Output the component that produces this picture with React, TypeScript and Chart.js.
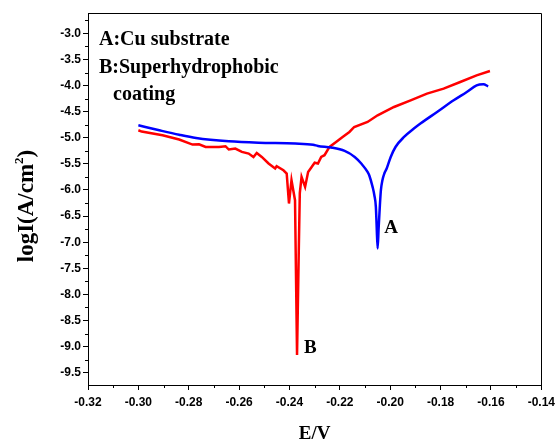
import React, { useEffect, useRef } from 'react';
import { Chart, registerables } from 'chart.js';

Chart.register(...registerables);

// A: Cu substrate (blue)
const cuE = [
  -0.3000, -0.2917, -0.2838, -0.2771, -0.2641, -0.2523, -0.2377, -0.2306, -0.2287,
  -0.2234, -0.2181, -0.2141, -0.2115, -0.2090, -0.2082, -0.2070, -0.2063, -0.2057,
  -0.2054, -0.2050, -0.2046, -0.2041, -0.2037, -0.2031, -0.2023, -0.2014, -0.1998,
  -0.1979, -0.1945, -0.1906, -0.1880, -0.1814, -0.1748, -0.1696, -0.1657, -0.1630,
  -0.1611,
];
const cuLogI = [
  -4.760, -4.856, -4.942, -5.003, -5.067, -5.095, -5.111, -5.134, -5.156,
  -5.187, -5.252, -5.367, -5.493, -5.654, -5.736, -5.941, -6.100, -6.324,
  -6.674, -7.120, -6.731, -6.291, -6.004, -5.813, -5.679, -5.589, -5.367,
  -5.176, -4.984, -4.824, -4.728, -4.506, -4.282, -4.123, -3.995, -3.976,
  -4.014,
];

// B: Superhydrophobic coating (red)
const coatE = [
  -0.3000, -0.2987, -0.2904, -0.2838, -0.2785, -0.2759, -0.2733, -0.2680, -0.2654,
  -0.2641, -0.2615, -0.2589, -0.2562, -0.2543, -0.2530, -0.2510, -0.2483, -0.2457,
  -0.2451, -0.2424, -0.2411, -0.2402, -0.2392, -0.2378, -0.2370, -0.2363, -0.2359,
  -0.2352, -0.2338, -0.2326, -0.2300, -0.2287, -0.2274, -0.2261, -0.2241, -0.2215,
  -0.2189, -0.2162, -0.2143, -0.2090, -0.2050, -0.1985, -0.1919, -0.1854, -0.1788,
  -0.1722, -0.1657, -0.1604,
];
const coatLogI = [
  -4.856, -4.881, -4.952, -5.034, -5.130, -5.124, -5.176, -5.176, -5.162,
  -5.225, -5.206, -5.271, -5.302, -5.367, -5.290, -5.367, -5.493, -5.589,
  -5.545, -5.622, -5.685, -6.259, -5.813, -6.196, -9.160, -7.150, -6.060,
  -5.750, -5.941, -5.654, -5.478, -5.493, -5.367, -5.334, -5.176, -5.080,
  -4.984, -4.889, -4.793, -4.697, -4.569, -4.410, -4.282, -4.154, -4.058,
  -3.932, -3.804, -3.721,
];

const xTicks = [-0.32, -0.30, -0.28, -0.26, -0.24, -0.22, -0.20, -0.18, -0.16, -0.14];
const xMinor = [-0.31, -0.29, -0.27, -0.25, -0.23, -0.21, -0.19, -0.17, -0.15];
const yTicks = [-9.5, -9.0, -8.5, -8.0, -7.5, -7.0, -6.5, -6.0, -5.5, -5.0, -4.5, -4.0, -3.5, -3.0];
const yMinor = [-9.25, -8.75, -8.25, -7.75, -7.25, -6.75, -6.25, -5.75, -5.25, -4.75, -4.25, -3.75, -3.25, -2.75];

const legendLines = ['A:Cu substrate', 'B:Superhydrophobic', 'coating'];
const curveLabels = [
  { text: 'A', x: -0.2024, y: -6.827 },
  { text: 'B', x: -0.2342, y: -9.123 },
];
const xTitle = 'E/V';

const SERIF = '"Liberation Serif", "Times New Roman", serif';
const SANS = '"Liberation Sans", Arial, sans-serif';

const decorPlugin = {
  id: 'decor',
  afterDraw(chart: any) {
    const { ctx, chartArea: a, scales } = chart;
    const xs = scales.x;
    const ys = scales.y;
    ctx.save();
    ctx.strokeStyle = '#000';
    ctx.lineWidth = 1;
    // top and right frame
    ctx.beginPath();
    ctx.moveTo(Math.round(a.left) + 0.5, Math.round(a.top) + 0.5);
    ctx.lineTo(Math.round(a.right) + 0.5, Math.round(a.top) + 0.5);
    ctx.lineTo(Math.round(a.right) + 0.5, Math.round(a.bottom) + 0.5);
    ctx.stroke();
    // minor ticks
    ctx.beginPath();
    xMinor.forEach((v) => {
      const px = Math.round(xs.getPixelForValue(v)) + 0.5;
      ctx.moveTo(px, a.bottom);
      ctx.lineTo(px, a.bottom + 3);
    });
    yMinor.forEach((v) => {
      const py = Math.round(ys.getPixelForValue(v)) + 0.5;
      ctx.moveTo(a.left, py);
      ctx.lineTo(a.left - 3, py);
    });
    ctx.stroke();

    ctx.fillStyle = '#000';
    // legend text
    ctx.font = `bold 20px ${SERIF}`;
    ctx.textAlign = 'left';
    ctx.textBaseline = 'alphabetic';
    ctx.fillText(legendLines[0], a.left + 11, a.top + 32);
    ctx.fillText(legendLines[1], a.left + 11, a.top + 60);
    ctx.fillText(legendLines[2], a.left + 25, a.top + 87);

    // curve labels
    ctx.font = `bold 19px ${SERIF}`;
    curveLabels.forEach((l) => {
      ctx.fillText(l.text, xs.getPixelForValue(l.x), ys.getPixelForValue(l.y));
    });

    // x title
    ctx.font = `bold 19px ${SERIF}`;
    ctx.textAlign = 'center';
    ctx.fillText(xTitle, (a.left + a.right) / 2, 439);

    // y title with superscript
    ctx.save();
    ctx.translate(33, (a.top + a.bottom) / 2 + 7);
    ctx.rotate(-Math.PI / 2);
    ctx.textAlign = 'left';
    const big = `bold 23px ${SERIF}`;
    const small = `bold 13px ${SERIF}`;
    const p1 = 'logI(A/cm';
    const p2 = '2';
    const p3 = ')';
    ctx.font = big;
    const w1 = ctx.measureText(p1).width;
    const w3 = ctx.measureText(p3).width;
    ctx.font = small;
    const w2 = ctx.measureText(p2).width;
    let x0 = -(w1 + w2 + w3) / 2;
    ctx.font = big;
    ctx.fillText(p1, x0, 0);
    x0 += w1;
    ctx.font = small;
    ctx.fillText(p2, x0, -10);
    x0 += w2;
    ctx.font = big;
    ctx.fillText(p3, x0, 0);
    ctx.restore();

    ctx.restore();
  },
};

export default function App() {
  const ref = useRef<HTMLCanvasElement | null>(null);
  useEffect(() => {
    if (!ref.current) return;
    const chart = new Chart(ref.current, {
      type: 'scatter',
      data: {
        datasets: [
          {
            label: 'A:Cu substrate',
            data: cuE.map((x, i) => ({ x, y: cuLogI[i] })),
            showLine: true,
            borderColor: '#0000ff',
            backgroundColor: '#0000ff',
            borderWidth: 2.5,
            pointRadius: 0,
            cubicInterpolationMode: 'monotone',
          },
          {
            label: 'B:Superhydrophobic coating',
            data: coatE.map((x, i) => ({ x, y: coatLogI[i] })),
            showLine: true,
            borderColor: '#ff0000',
            backgroundColor: '#ff0000',
            borderWidth: 2.5,
            pointRadius: 0,
            tension: 0,
          },
        ],
      },
      options: {
        animation: false,
        responsive: false,
        devicePixelRatio: 1,
        layout: { padding: { left: 0, right: 15, top: 13, bottom: 0 } },
        plugins: { legend: { display: false }, tooltip: { enabled: false }, title: { display: false } },
        scales: {
          x: {
            type: 'linear',
            min: -0.32,
            max: -0.14,
            afterBuildTicks: (s: any) => {
              s.ticks = xTicks.map((v) => ({ value: v }));
            },
            afterFit: (s: any) => {
              s.height = 56;
            },
            ticks: {
              autoSkip: false,
              maxRotation: 0,
              padding: 5,
              color: '#000',
              font: { family: SANS, weight: 'bold', size: 12 },
              callback: (v: any) => Number(v).toFixed(2),
            },
            grid: { drawOnChartArea: false, drawTicks: true, tickLength: 5, color: '#000', lineWidth: 1 },
            border: { display: true, color: '#000', width: 1 },
          },
          y: {
            type: 'linear',
            min: -9.735,
            max: -2.61,
            afterBuildTicks: (s: any) => {
              s.ticks = yTicks.map((v) => ({ value: v }));
            },
            afterFit: (s: any) => {
              s.width = 88;
            },
            ticks: {
              autoSkip: false,
              padding: 2,
              color: '#000',
              font: { family: SANS, weight: 'bold', size: 12 },
              callback: (v: any) => Number(v).toFixed(1),
            },
            grid: { drawOnChartArea: false, drawTicks: true, tickLength: 5, color: '#000', lineWidth: 1 },
            border: { display: true, color: '#000', width: 1 },
          },
        },
      } as any,
      plugins: [decorPlugin],
    });
    return () => chart.destroy();
  }, []);
  return (
    <div style={{ position: 'fixed', left: 0, top: 0, width: 560, height: 441, background: '#fff' }}>
      <canvas ref={ref} width={560} height={441} />
    </div>
  );
}
